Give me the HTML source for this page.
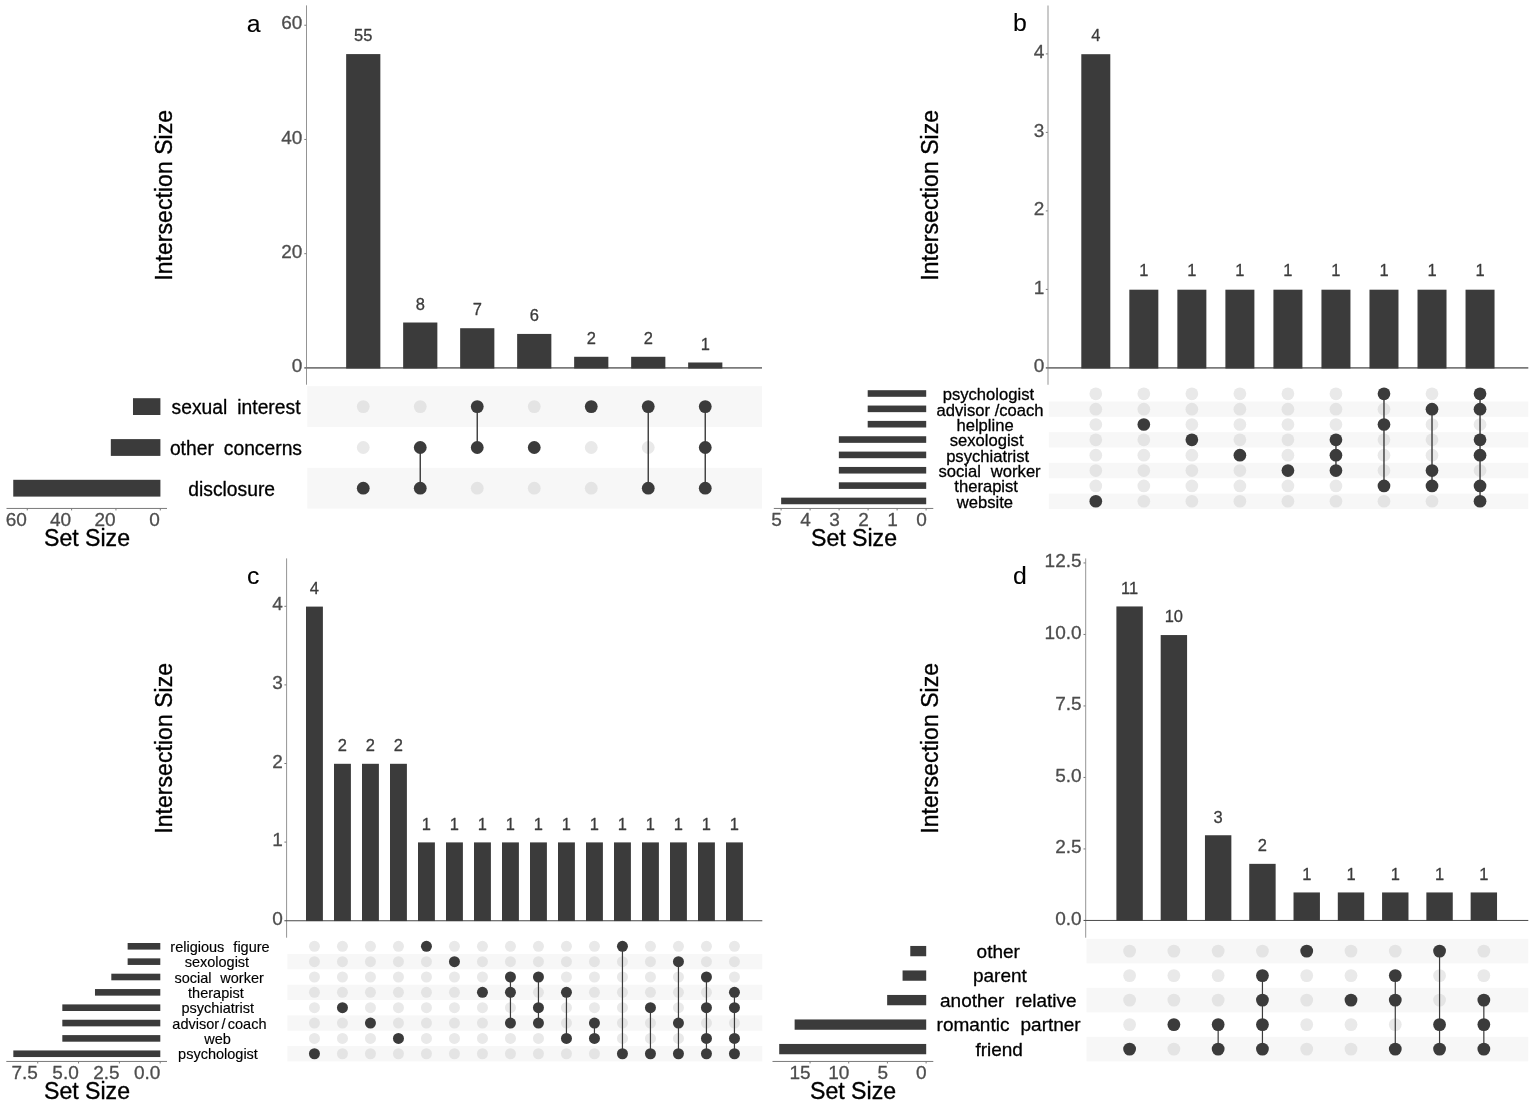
<!DOCTYPE html>
<html lang="en">
<head>
<meta charset="utf-8">
<title>UpSet plots</title>
<style>
html,body{margin:0;padding:0;background:#fff;}
body{width:1535px;height:1106px;overflow:hidden;}
svg{display:block;font-family:"Liberation Sans", sans-serif;}
text{stroke-linejoin:round;}
text[fill="#000"]{stroke:#000;stroke-width:0.35px;}
text[fill="#4d4d4d"]{stroke:#4d4d4d;stroke-width:0.3px;}
text[fill="#3b3b3b"]{stroke:#3b3b3b;stroke-width:0.3px;}
</style>
</head>
<body>
<svg width="1535" height="1106" viewBox="0 0 1535 1106">
<rect width="1535" height="1106" fill="#fff"/>
<g transform="translate(0,0)">
<rect x="307.3" y="386.2" width="454.7" height="40.8" fill="#f7f7f7"/>
<rect x="307.3" y="467.8" width="454.7" height="40.8" fill="#f7f7f7"/>
<circle cx="363.25" cy="406.6" r="6.4" fill="#e4e4e4"/>
<circle cx="363.25" cy="447.5" r="6.4" fill="#e9e9e9"/>
<circle cx="420.25" cy="406.6" r="6.4" fill="#e4e4e4"/>
<circle cx="477.25" cy="488.2" r="6.4" fill="#e4e4e4"/>
<circle cx="534.25" cy="406.6" r="6.4" fill="#e4e4e4"/>
<circle cx="534.25" cy="488.2" r="6.4" fill="#e4e4e4"/>
<circle cx="591.25" cy="447.5" r="6.4" fill="#e9e9e9"/>
<circle cx="591.25" cy="488.2" r="6.4" fill="#e4e4e4"/>
<circle cx="648.25" cy="447.5" r="6.4" fill="#e9e9e9"/>
<circle cx="363.25" cy="488.2" r="6.4" fill="#3b3b3b"/>
<line x1="420.25" y1="447.5" x2="420.25" y2="488.2" stroke="#3b3b3b" stroke-width="1.4"/>
<circle cx="420.25" cy="447.5" r="6.4" fill="#3b3b3b"/>
<circle cx="420.25" cy="488.2" r="6.4" fill="#3b3b3b"/>
<line x1="477.25" y1="406.6" x2="477.25" y2="447.5" stroke="#3b3b3b" stroke-width="1.4"/>
<circle cx="477.25" cy="406.6" r="6.4" fill="#3b3b3b"/>
<circle cx="477.25" cy="447.5" r="6.4" fill="#3b3b3b"/>
<circle cx="534.25" cy="447.5" r="6.4" fill="#3b3b3b"/>
<circle cx="591.25" cy="406.6" r="6.4" fill="#3b3b3b"/>
<line x1="648.25" y1="406.6" x2="648.25" y2="488.2" stroke="#3b3b3b" stroke-width="1.4"/>
<circle cx="648.25" cy="406.6" r="6.4" fill="#3b3b3b"/>
<circle cx="648.25" cy="488.2" r="6.4" fill="#3b3b3b"/>
<line x1="705.25" y1="406.6" x2="705.25" y2="488.2" stroke="#3b3b3b" stroke-width="1.4"/>
<circle cx="705.25" cy="406.6" r="6.4" fill="#3b3b3b"/>
<circle cx="705.25" cy="447.5" r="6.4" fill="#3b3b3b"/>
<circle cx="705.25" cy="488.2" r="6.4" fill="#3b3b3b"/>
<line x1="306.5" y1="5.4" x2="306.5" y2="384.7" stroke="#949494" stroke-width="1"/>
<line x1="304.3" y1="367.9" x2="762" y2="367.9" stroke="#7a7a7a" stroke-width="1.6"/>
<text x="302.4" y="372" font-size="19" fill="#4d4d4d" text-anchor="end">0</text>
<line x1="304.3" y1="253.68" x2="306.3" y2="253.68" stroke="#7a7a7a" stroke-width="1"/>
<text x="302.4" y="257.78" font-size="19" fill="#4d4d4d" text-anchor="end">20</text>
<line x1="304.3" y1="139.46" x2="306.3" y2="139.46" stroke="#7a7a7a" stroke-width="1"/>
<text x="302.4" y="143.56" font-size="19" fill="#4d4d4d" text-anchor="end">40</text>
<line x1="304.3" y1="25.24" x2="306.3" y2="25.24" stroke="#7a7a7a" stroke-width="1"/>
<text x="302.4" y="29.34" font-size="19" fill="#4d4d4d" text-anchor="end">60</text>
<rect x="346.15" y="54.09" width="34.2" height="314.41" fill="#3b3b3b"/>
<text transform="translate(363.25,41.19) scale(0.97,1)" font-size="17" fill="#3b3b3b" text-anchor="middle">55</text>
<rect x="403.15" y="322.51" width="34.2" height="45.99" fill="#3b3b3b"/>
<text transform="translate(420.25,309.61) scale(0.97,1)" font-size="17" fill="#3b3b3b" text-anchor="middle">8</text>
<rect x="460.15" y="328.22" width="34.2" height="40.28" fill="#3b3b3b"/>
<text transform="translate(477.25,315.32) scale(0.97,1)" font-size="17" fill="#3b3b3b" text-anchor="middle">7</text>
<rect x="517.15" y="333.93" width="34.2" height="34.57" fill="#3b3b3b"/>
<text transform="translate(534.25,321.03) scale(0.97,1)" font-size="17" fill="#3b3b3b" text-anchor="middle">6</text>
<rect x="574.15" y="356.78" width="34.2" height="11.72" fill="#3b3b3b"/>
<text transform="translate(591.25,343.88) scale(0.97,1)" font-size="17" fill="#3b3b3b" text-anchor="middle">2</text>
<rect x="631.15" y="356.78" width="34.2" height="11.72" fill="#3b3b3b"/>
<text transform="translate(648.25,343.88) scale(0.97,1)" font-size="17" fill="#3b3b3b" text-anchor="middle">2</text>
<rect x="688.15" y="362.49" width="34.2" height="6.01" fill="#3b3b3b"/>
<text transform="translate(705.25,349.59) scale(0.97,1)" font-size="17" fill="#3b3b3b" text-anchor="middle">1</text>
<text transform="translate(172.3,195.3) rotate(-90)" font-size="23.1" fill="#000" text-anchor="middle">Intersection Size</text>
<text x="246.7" y="31.7" font-size="24.8" fill="#000" style="stroke-width:0.1px">a</text>
<rect x="132.99" y="398.2" width="27.41" height="16.8" fill="#3b3b3b"/>
<text x="236.05" y="414.07" font-size="19.3" fill="#000" text-anchor="middle" style="white-space:pre;stroke-width:0.3px;word-spacing:4.6px">sexual interest</text>
<rect x="110.82" y="439.1" width="49.58" height="16.8" fill="#3b3b3b"/>
<text x="235.95" y="454.97" font-size="19.3" fill="#000" text-anchor="middle" style="white-space:pre;stroke-width:0.3px;word-spacing:4.6px">other concerns</text>
<rect x="13.25" y="479.8" width="147.16" height="16.8" fill="#3b3b3b"/>
<text x="231.65" y="495.67" font-size="19.3" fill="#000" text-anchor="middle" style="white-space:pre;stroke-width:0.3px">disclosure</text>
<line x1="6.5" y1="508.45" x2="167" y2="508.45" stroke="#7a7a7a" stroke-width="1"/>
<line x1="160.3" y1="508.45" x2="160.3" y2="510.45" stroke="#7a7a7a" stroke-width="1"/>
<text x="159.9" y="526.35" font-size="19" fill="#4d4d4d" text-anchor="end">0</text>
<line x1="115.95" y1="508.45" x2="115.95" y2="510.45" stroke="#7a7a7a" stroke-width="1"/>
<text x="115.55" y="526.35" font-size="19" fill="#4d4d4d" text-anchor="end">20</text>
<line x1="71.6" y1="508.45" x2="71.6" y2="510.45" stroke="#7a7a7a" stroke-width="1"/>
<text x="71.2" y="526.35" font-size="19" fill="#4d4d4d" text-anchor="end">40</text>
<line x1="27.25" y1="508.45" x2="27.25" y2="510.45" stroke="#7a7a7a" stroke-width="1"/>
<text x="26.85" y="526.35" font-size="19" fill="#4d4d4d" text-anchor="end">60</text>
<text x="87" y="546.2" font-size="23.1" fill="#000" text-anchor="middle">Set Size</text>
</g>
<g transform="translate(765.8,0)">
<rect x="283" y="401.47" width="479.5" height="15.35" fill="#f7f7f7"/>
<rect x="283" y="432.18" width="479.5" height="15.35" fill="#f7f7f7"/>
<rect x="283" y="462.88" width="479.5" height="15.35" fill="#f7f7f7"/>
<rect x="283" y="493.57" width="479.5" height="15.35" fill="#f7f7f7"/>
<circle cx="330" cy="393.8" r="6.35" fill="#e9e9e9"/>
<circle cx="330" cy="409.15" r="6.35" fill="#e4e4e4"/>
<circle cx="330" cy="424.5" r="6.35" fill="#e9e9e9"/>
<circle cx="330" cy="439.85" r="6.35" fill="#e4e4e4"/>
<circle cx="330" cy="455.2" r="6.35" fill="#e9e9e9"/>
<circle cx="330" cy="470.55" r="6.35" fill="#e4e4e4"/>
<circle cx="330" cy="485.9" r="6.35" fill="#e9e9e9"/>
<circle cx="378.03" cy="393.8" r="6.35" fill="#e9e9e9"/>
<circle cx="378.03" cy="409.15" r="6.35" fill="#e4e4e4"/>
<circle cx="378.03" cy="439.85" r="6.35" fill="#e4e4e4"/>
<circle cx="378.03" cy="455.2" r="6.35" fill="#e9e9e9"/>
<circle cx="378.03" cy="470.55" r="6.35" fill="#e4e4e4"/>
<circle cx="378.03" cy="485.9" r="6.35" fill="#e9e9e9"/>
<circle cx="378.03" cy="501.25" r="6.35" fill="#e4e4e4"/>
<circle cx="426.06" cy="393.8" r="6.35" fill="#e9e9e9"/>
<circle cx="426.06" cy="409.15" r="6.35" fill="#e4e4e4"/>
<circle cx="426.06" cy="424.5" r="6.35" fill="#e9e9e9"/>
<circle cx="426.06" cy="455.2" r="6.35" fill="#e9e9e9"/>
<circle cx="426.06" cy="470.55" r="6.35" fill="#e4e4e4"/>
<circle cx="426.06" cy="485.9" r="6.35" fill="#e9e9e9"/>
<circle cx="426.06" cy="501.25" r="6.35" fill="#e4e4e4"/>
<circle cx="474.09" cy="393.8" r="6.35" fill="#e9e9e9"/>
<circle cx="474.09" cy="409.15" r="6.35" fill="#e4e4e4"/>
<circle cx="474.09" cy="424.5" r="6.35" fill="#e9e9e9"/>
<circle cx="474.09" cy="439.85" r="6.35" fill="#e4e4e4"/>
<circle cx="474.09" cy="470.55" r="6.35" fill="#e4e4e4"/>
<circle cx="474.09" cy="485.9" r="6.35" fill="#e9e9e9"/>
<circle cx="474.09" cy="501.25" r="6.35" fill="#e4e4e4"/>
<circle cx="522.12" cy="393.8" r="6.35" fill="#e9e9e9"/>
<circle cx="522.12" cy="409.15" r="6.35" fill="#e4e4e4"/>
<circle cx="522.12" cy="424.5" r="6.35" fill="#e9e9e9"/>
<circle cx="522.12" cy="439.85" r="6.35" fill="#e4e4e4"/>
<circle cx="522.12" cy="455.2" r="6.35" fill="#e9e9e9"/>
<circle cx="522.12" cy="485.9" r="6.35" fill="#e9e9e9"/>
<circle cx="522.12" cy="501.25" r="6.35" fill="#e4e4e4"/>
<circle cx="570.15" cy="393.8" r="6.35" fill="#e9e9e9"/>
<circle cx="570.15" cy="409.15" r="6.35" fill="#e4e4e4"/>
<circle cx="570.15" cy="424.5" r="6.35" fill="#e9e9e9"/>
<circle cx="570.15" cy="485.9" r="6.35" fill="#e9e9e9"/>
<circle cx="570.15" cy="501.25" r="6.35" fill="#e4e4e4"/>
<circle cx="618.18" cy="409.15" r="6.35" fill="#e4e4e4"/>
<circle cx="618.18" cy="439.85" r="6.35" fill="#e4e4e4"/>
<circle cx="618.18" cy="455.2" r="6.35" fill="#e9e9e9"/>
<circle cx="618.18" cy="470.55" r="6.35" fill="#e4e4e4"/>
<circle cx="618.18" cy="501.25" r="6.35" fill="#e4e4e4"/>
<circle cx="666.21" cy="393.8" r="6.35" fill="#e9e9e9"/>
<circle cx="666.21" cy="424.5" r="6.35" fill="#e9e9e9"/>
<circle cx="666.21" cy="439.85" r="6.35" fill="#e4e4e4"/>
<circle cx="666.21" cy="455.2" r="6.35" fill="#e9e9e9"/>
<circle cx="666.21" cy="501.25" r="6.35" fill="#e4e4e4"/>
<circle cx="714.24" cy="424.5" r="6.35" fill="#e9e9e9"/>
<circle cx="714.24" cy="470.55" r="6.35" fill="#e4e4e4"/>
<circle cx="330" cy="501.25" r="6.35" fill="#3b3b3b"/>
<circle cx="378.03" cy="424.5" r="6.35" fill="#3b3b3b"/>
<circle cx="426.06" cy="439.85" r="6.35" fill="#3b3b3b"/>
<circle cx="474.09" cy="455.2" r="6.35" fill="#3b3b3b"/>
<circle cx="522.12" cy="470.55" r="6.35" fill="#3b3b3b"/>
<line x1="570.15" y1="439.85" x2="570.15" y2="470.55" stroke="#3b3b3b" stroke-width="1.4"/>
<circle cx="570.15" cy="439.85" r="6.35" fill="#3b3b3b"/>
<circle cx="570.15" cy="455.2" r="6.35" fill="#3b3b3b"/>
<circle cx="570.15" cy="470.55" r="6.35" fill="#3b3b3b"/>
<line x1="618.18" y1="393.8" x2="618.18" y2="485.9" stroke="#3b3b3b" stroke-width="1.4"/>
<circle cx="618.18" cy="393.8" r="6.35" fill="#3b3b3b"/>
<circle cx="618.18" cy="424.5" r="6.35" fill="#3b3b3b"/>
<circle cx="618.18" cy="485.9" r="6.35" fill="#3b3b3b"/>
<line x1="666.21" y1="409.15" x2="666.21" y2="485.9" stroke="#3b3b3b" stroke-width="1.4"/>
<circle cx="666.21" cy="409.15" r="6.35" fill="#3b3b3b"/>
<circle cx="666.21" cy="470.55" r="6.35" fill="#3b3b3b"/>
<circle cx="666.21" cy="485.9" r="6.35" fill="#3b3b3b"/>
<line x1="714.24" y1="393.8" x2="714.24" y2="501.25" stroke="#3b3b3b" stroke-width="1.4"/>
<circle cx="714.24" cy="393.8" r="6.35" fill="#3b3b3b"/>
<circle cx="714.24" cy="409.15" r="6.35" fill="#3b3b3b"/>
<circle cx="714.24" cy="439.85" r="6.35" fill="#3b3b3b"/>
<circle cx="714.24" cy="455.2" r="6.35" fill="#3b3b3b"/>
<circle cx="714.24" cy="485.9" r="6.35" fill="#3b3b3b"/>
<circle cx="714.24" cy="501.25" r="6.35" fill="#3b3b3b"/>
<line x1="282.2" y1="5.4" x2="282.2" y2="384.7" stroke="#b4b4b4" stroke-width="1.4"/>
<line x1="280" y1="367.9" x2="762.5" y2="367.9" stroke="#7a7a7a" stroke-width="1.6"/>
<text x="278.5" y="372" font-size="19" fill="#4d4d4d" text-anchor="end">0</text>
<line x1="280" y1="289.4" x2="282" y2="289.4" stroke="#7a7a7a" stroke-width="1"/>
<text x="278.5" y="293.5" font-size="19" fill="#4d4d4d" text-anchor="end">1</text>
<line x1="280" y1="210.9" x2="282" y2="210.9" stroke="#7a7a7a" stroke-width="1"/>
<text x="278.5" y="215" font-size="19" fill="#4d4d4d" text-anchor="end">2</text>
<line x1="280" y1="132.4" x2="282" y2="132.4" stroke="#7a7a7a" stroke-width="1"/>
<text x="278.5" y="136.5" font-size="19" fill="#4d4d4d" text-anchor="end">3</text>
<line x1="280" y1="53.9" x2="282" y2="53.9" stroke="#7a7a7a" stroke-width="1"/>
<text x="278.5" y="58" font-size="19" fill="#4d4d4d" text-anchor="end">4</text>
<rect x="315.5" y="54.2" width="29" height="314.3" fill="#3b3b3b"/>
<text transform="translate(330,40.7) scale(0.97,1)" font-size="17" fill="#3b3b3b" text-anchor="middle">4</text>
<rect x="363.53" y="289.7" width="29" height="78.8" fill="#3b3b3b"/>
<text transform="translate(378.03,276.2) scale(0.97,1)" font-size="17" fill="#3b3b3b" text-anchor="middle">1</text>
<rect x="411.56" y="289.7" width="29" height="78.8" fill="#3b3b3b"/>
<text transform="translate(426.06,276.2) scale(0.97,1)" font-size="17" fill="#3b3b3b" text-anchor="middle">1</text>
<rect x="459.59" y="289.7" width="29" height="78.8" fill="#3b3b3b"/>
<text transform="translate(474.09,276.2) scale(0.97,1)" font-size="17" fill="#3b3b3b" text-anchor="middle">1</text>
<rect x="507.62" y="289.7" width="29" height="78.8" fill="#3b3b3b"/>
<text transform="translate(522.12,276.2) scale(0.97,1)" font-size="17" fill="#3b3b3b" text-anchor="middle">1</text>
<rect x="555.65" y="289.7" width="29" height="78.8" fill="#3b3b3b"/>
<text transform="translate(570.15,276.2) scale(0.97,1)" font-size="17" fill="#3b3b3b" text-anchor="middle">1</text>
<rect x="603.68" y="289.7" width="29" height="78.8" fill="#3b3b3b"/>
<text transform="translate(618.18,276.2) scale(0.97,1)" font-size="17" fill="#3b3b3b" text-anchor="middle">1</text>
<rect x="651.71" y="289.7" width="29" height="78.8" fill="#3b3b3b"/>
<text transform="translate(666.21,276.2) scale(0.97,1)" font-size="17" fill="#3b3b3b" text-anchor="middle">1</text>
<rect x="699.74" y="289.7" width="29" height="78.8" fill="#3b3b3b"/>
<text transform="translate(714.24,276.2) scale(0.97,1)" font-size="17" fill="#3b3b3b" text-anchor="middle">1</text>
<text transform="translate(172.3,195.3) rotate(-90)" font-size="23.1" fill="#000" text-anchor="middle">Intersection Size</text>
<text x="247.2" y="31.2" font-size="24.8" fill="#000" style="stroke-width:0.1px">b</text>
<rect x="101.9" y="390.2" width="58.5" height="6.6" fill="#3b3b3b"/>
<text x="222.6" y="400.16" font-size="16.6" fill="#000" text-anchor="middle" style="white-space:pre;stroke-width:0.3px">psychologist</text>
<rect x="101.9" y="405.55" width="58.5" height="6.6" fill="#3b3b3b"/>
<text x="224.25" y="415.51" font-size="16.6" fill="#000" text-anchor="middle" style="white-space:pre;stroke-width:0.3px;word-spacing:0px">advisor /coach</text>
<rect x="101.9" y="420.9" width="58.5" height="6.6" fill="#3b3b3b"/>
<text x="219.25" y="430.86" font-size="16.6" fill="#000" text-anchor="middle" style="white-space:pre;stroke-width:0.3px">helpline</text>
<rect x="73.05" y="436.25" width="87.35" height="6.6" fill="#3b3b3b"/>
<text x="220.85" y="446.21" font-size="16.6" fill="#000" text-anchor="middle" style="white-space:pre;stroke-width:0.3px">sexologist</text>
<rect x="73.05" y="451.6" width="87.35" height="6.6" fill="#3b3b3b"/>
<text x="221.85" y="461.56" font-size="16.6" fill="#000" text-anchor="middle" style="white-space:pre;stroke-width:0.3px">psychiatrist</text>
<rect x="73.05" y="466.95" width="87.35" height="6.6" fill="#3b3b3b"/>
<text x="223.75" y="476.91" font-size="16.6" fill="#000" text-anchor="middle" style="white-space:pre;stroke-width:0.3px;word-spacing:5.4px">social worker</text>
<rect x="73.05" y="482.3" width="87.35" height="6.6" fill="#3b3b3b"/>
<text x="220.35" y="492.26" font-size="16.6" fill="#000" text-anchor="middle" style="white-space:pre;stroke-width:0.3px">therapist</text>
<rect x="15.35" y="497.65" width="145.05" height="6.6" fill="#3b3b3b"/>
<text x="219.1" y="507.61" font-size="16.6" fill="#000" text-anchor="middle" style="white-space:pre;stroke-width:0.3px">website</text>
<line x1="8" y1="508.45" x2="167.5" y2="508.45" stroke="#7a7a7a" stroke-width="1"/>
<line x1="160.3" y1="508.45" x2="160.3" y2="510.45" stroke="#7a7a7a" stroke-width="1"/>
<text x="161" y="526.35" font-size="19" fill="#4d4d4d" text-anchor="end">0</text>
<line x1="131.3" y1="508.45" x2="131.3" y2="510.45" stroke="#7a7a7a" stroke-width="1"/>
<text x="132" y="526.35" font-size="19" fill="#4d4d4d" text-anchor="end">1</text>
<line x1="102.3" y1="508.45" x2="102.3" y2="510.45" stroke="#7a7a7a" stroke-width="1"/>
<text x="103" y="526.35" font-size="19" fill="#4d4d4d" text-anchor="end">2</text>
<line x1="73.3" y1="508.45" x2="73.3" y2="510.45" stroke="#7a7a7a" stroke-width="1"/>
<text x="74" y="526.35" font-size="19" fill="#4d4d4d" text-anchor="end">3</text>
<line x1="44.3" y1="508.45" x2="44.3" y2="510.45" stroke="#7a7a7a" stroke-width="1"/>
<text x="45" y="526.35" font-size="19" fill="#4d4d4d" text-anchor="end">4</text>
<line x1="15.3" y1="508.45" x2="15.3" y2="510.45" stroke="#7a7a7a" stroke-width="1"/>
<text x="16" y="526.35" font-size="19" fill="#4d4d4d" text-anchor="end">5</text>
<text x="88.2" y="546.2" font-size="23.1" fill="#000" text-anchor="middle">Set Size</text>
</g>
<g transform="translate(0,553)">
<rect x="287.4" y="400.97" width="474.9" height="15.35" fill="#f7f7f7"/>
<rect x="287.4" y="431.68" width="474.9" height="15.35" fill="#f7f7f7"/>
<rect x="287.4" y="462.38" width="474.9" height="15.35" fill="#f7f7f7"/>
<rect x="287.4" y="493.07" width="474.9" height="15.35" fill="#f7f7f7"/>
<circle cx="314.45" cy="393.3" r="5.5" fill="#e9e9e9"/>
<circle cx="314.45" cy="408.65" r="5.5" fill="#e4e4e4"/>
<circle cx="314.45" cy="424" r="5.5" fill="#e9e9e9"/>
<circle cx="314.45" cy="439.35" r="5.5" fill="#e4e4e4"/>
<circle cx="314.45" cy="454.7" r="5.5" fill="#e9e9e9"/>
<circle cx="314.45" cy="470.05" r="5.5" fill="#e4e4e4"/>
<circle cx="314.45" cy="485.4" r="5.5" fill="#e9e9e9"/>
<circle cx="342.45" cy="393.3" r="5.5" fill="#e9e9e9"/>
<circle cx="342.45" cy="408.65" r="5.5" fill="#e4e4e4"/>
<circle cx="342.45" cy="424" r="5.5" fill="#e9e9e9"/>
<circle cx="342.45" cy="439.35" r="5.5" fill="#e4e4e4"/>
<circle cx="342.45" cy="470.05" r="5.5" fill="#e4e4e4"/>
<circle cx="342.45" cy="485.4" r="5.5" fill="#e9e9e9"/>
<circle cx="342.45" cy="500.75" r="5.5" fill="#e4e4e4"/>
<circle cx="370.45" cy="393.3" r="5.5" fill="#e9e9e9"/>
<circle cx="370.45" cy="408.65" r="5.5" fill="#e4e4e4"/>
<circle cx="370.45" cy="424" r="5.5" fill="#e9e9e9"/>
<circle cx="370.45" cy="439.35" r="5.5" fill="#e4e4e4"/>
<circle cx="370.45" cy="454.7" r="5.5" fill="#e9e9e9"/>
<circle cx="370.45" cy="485.4" r="5.5" fill="#e9e9e9"/>
<circle cx="370.45" cy="500.75" r="5.5" fill="#e4e4e4"/>
<circle cx="398.45" cy="393.3" r="5.5" fill="#e9e9e9"/>
<circle cx="398.45" cy="408.65" r="5.5" fill="#e4e4e4"/>
<circle cx="398.45" cy="424" r="5.5" fill="#e9e9e9"/>
<circle cx="398.45" cy="439.35" r="5.5" fill="#e4e4e4"/>
<circle cx="398.45" cy="454.7" r="5.5" fill="#e9e9e9"/>
<circle cx="398.45" cy="470.05" r="5.5" fill="#e4e4e4"/>
<circle cx="398.45" cy="500.75" r="5.5" fill="#e4e4e4"/>
<circle cx="426.45" cy="408.65" r="5.5" fill="#e4e4e4"/>
<circle cx="426.45" cy="424" r="5.5" fill="#e9e9e9"/>
<circle cx="426.45" cy="439.35" r="5.5" fill="#e4e4e4"/>
<circle cx="426.45" cy="454.7" r="5.5" fill="#e9e9e9"/>
<circle cx="426.45" cy="470.05" r="5.5" fill="#e4e4e4"/>
<circle cx="426.45" cy="485.4" r="5.5" fill="#e9e9e9"/>
<circle cx="426.45" cy="500.75" r="5.5" fill="#e4e4e4"/>
<circle cx="454.45" cy="393.3" r="5.5" fill="#e9e9e9"/>
<circle cx="454.45" cy="424" r="5.5" fill="#e9e9e9"/>
<circle cx="454.45" cy="439.35" r="5.5" fill="#e4e4e4"/>
<circle cx="454.45" cy="454.7" r="5.5" fill="#e9e9e9"/>
<circle cx="454.45" cy="470.05" r="5.5" fill="#e4e4e4"/>
<circle cx="454.45" cy="485.4" r="5.5" fill="#e9e9e9"/>
<circle cx="454.45" cy="500.75" r="5.5" fill="#e4e4e4"/>
<circle cx="482.45" cy="393.3" r="5.5" fill="#e9e9e9"/>
<circle cx="482.45" cy="408.65" r="5.5" fill="#e4e4e4"/>
<circle cx="482.45" cy="424" r="5.5" fill="#e9e9e9"/>
<circle cx="482.45" cy="454.7" r="5.5" fill="#e9e9e9"/>
<circle cx="482.45" cy="470.05" r="5.5" fill="#e4e4e4"/>
<circle cx="482.45" cy="485.4" r="5.5" fill="#e9e9e9"/>
<circle cx="482.45" cy="500.75" r="5.5" fill="#e4e4e4"/>
<circle cx="510.45" cy="393.3" r="5.5" fill="#e9e9e9"/>
<circle cx="510.45" cy="408.65" r="5.5" fill="#e4e4e4"/>
<circle cx="510.45" cy="454.7" r="5.5" fill="#e9e9e9"/>
<circle cx="510.45" cy="485.4" r="5.5" fill="#e9e9e9"/>
<circle cx="510.45" cy="500.75" r="5.5" fill="#e4e4e4"/>
<circle cx="538.45" cy="393.3" r="5.5" fill="#e9e9e9"/>
<circle cx="538.45" cy="408.65" r="5.5" fill="#e4e4e4"/>
<circle cx="538.45" cy="439.35" r="5.5" fill="#e4e4e4"/>
<circle cx="538.45" cy="485.4" r="5.5" fill="#e9e9e9"/>
<circle cx="538.45" cy="500.75" r="5.5" fill="#e4e4e4"/>
<circle cx="566.45" cy="393.3" r="5.5" fill="#e9e9e9"/>
<circle cx="566.45" cy="408.65" r="5.5" fill="#e4e4e4"/>
<circle cx="566.45" cy="424" r="5.5" fill="#e9e9e9"/>
<circle cx="566.45" cy="454.7" r="5.5" fill="#e9e9e9"/>
<circle cx="566.45" cy="470.05" r="5.5" fill="#e4e4e4"/>
<circle cx="566.45" cy="500.75" r="5.5" fill="#e4e4e4"/>
<circle cx="594.45" cy="393.3" r="5.5" fill="#e9e9e9"/>
<circle cx="594.45" cy="408.65" r="5.5" fill="#e4e4e4"/>
<circle cx="594.45" cy="424" r="5.5" fill="#e9e9e9"/>
<circle cx="594.45" cy="439.35" r="5.5" fill="#e4e4e4"/>
<circle cx="594.45" cy="454.7" r="5.5" fill="#e9e9e9"/>
<circle cx="594.45" cy="500.75" r="5.5" fill="#e4e4e4"/>
<circle cx="622.45" cy="408.65" r="5.5" fill="#e4e4e4"/>
<circle cx="622.45" cy="424" r="5.5" fill="#e9e9e9"/>
<circle cx="622.45" cy="439.35" r="5.5" fill="#e4e4e4"/>
<circle cx="622.45" cy="454.7" r="5.5" fill="#e9e9e9"/>
<circle cx="622.45" cy="470.05" r="5.5" fill="#e4e4e4"/>
<circle cx="622.45" cy="485.4" r="5.5" fill="#e9e9e9"/>
<circle cx="650.45" cy="393.3" r="5.5" fill="#e9e9e9"/>
<circle cx="650.45" cy="408.65" r="5.5" fill="#e4e4e4"/>
<circle cx="650.45" cy="424" r="5.5" fill="#e9e9e9"/>
<circle cx="650.45" cy="439.35" r="5.5" fill="#e4e4e4"/>
<circle cx="650.45" cy="470.05" r="5.5" fill="#e4e4e4"/>
<circle cx="650.45" cy="485.4" r="5.5" fill="#e9e9e9"/>
<circle cx="678.45" cy="393.3" r="5.5" fill="#e9e9e9"/>
<circle cx="678.45" cy="424" r="5.5" fill="#e9e9e9"/>
<circle cx="678.45" cy="439.35" r="5.5" fill="#e4e4e4"/>
<circle cx="678.45" cy="454.7" r="5.5" fill="#e9e9e9"/>
<circle cx="678.45" cy="485.4" r="5.5" fill="#e9e9e9"/>
<circle cx="706.45" cy="393.3" r="5.5" fill="#e9e9e9"/>
<circle cx="706.45" cy="408.65" r="5.5" fill="#e4e4e4"/>
<circle cx="706.45" cy="439.35" r="5.5" fill="#e4e4e4"/>
<circle cx="706.45" cy="470.05" r="5.5" fill="#e4e4e4"/>
<circle cx="734.45" cy="393.3" r="5.5" fill="#e9e9e9"/>
<circle cx="734.45" cy="408.65" r="5.5" fill="#e4e4e4"/>
<circle cx="734.45" cy="424" r="5.5" fill="#e9e9e9"/>
<circle cx="734.45" cy="470.05" r="5.5" fill="#e4e4e4"/>
<circle cx="314.45" cy="500.75" r="5.5" fill="#3b3b3b"/>
<circle cx="342.45" cy="454.7" r="5.5" fill="#3b3b3b"/>
<circle cx="370.45" cy="470.05" r="5.5" fill="#3b3b3b"/>
<circle cx="398.45" cy="485.4" r="5.5" fill="#3b3b3b"/>
<circle cx="426.45" cy="393.3" r="5.5" fill="#3b3b3b"/>
<circle cx="454.45" cy="408.65" r="5.5" fill="#3b3b3b"/>
<circle cx="482.45" cy="439.35" r="5.5" fill="#3b3b3b"/>
<line x1="510.45" y1="424" x2="510.45" y2="470.05" stroke="#3b3b3b" stroke-width="1.2"/>
<circle cx="510.45" cy="424" r="5.5" fill="#3b3b3b"/>
<circle cx="510.45" cy="439.35" r="5.5" fill="#3b3b3b"/>
<circle cx="510.45" cy="470.05" r="5.5" fill="#3b3b3b"/>
<line x1="538.45" y1="424" x2="538.45" y2="470.05" stroke="#3b3b3b" stroke-width="1.2"/>
<circle cx="538.45" cy="424" r="5.5" fill="#3b3b3b"/>
<circle cx="538.45" cy="454.7" r="5.5" fill="#3b3b3b"/>
<circle cx="538.45" cy="470.05" r="5.5" fill="#3b3b3b"/>
<line x1="566.45" y1="439.35" x2="566.45" y2="485.4" stroke="#3b3b3b" stroke-width="1.2"/>
<circle cx="566.45" cy="439.35" r="5.5" fill="#3b3b3b"/>
<circle cx="566.45" cy="485.4" r="5.5" fill="#3b3b3b"/>
<line x1="594.45" y1="470.05" x2="594.45" y2="485.4" stroke="#3b3b3b" stroke-width="1.2"/>
<circle cx="594.45" cy="470.05" r="5.5" fill="#3b3b3b"/>
<circle cx="594.45" cy="485.4" r="5.5" fill="#3b3b3b"/>
<line x1="622.45" y1="393.3" x2="622.45" y2="500.75" stroke="#3b3b3b" stroke-width="1.2"/>
<circle cx="622.45" cy="393.3" r="5.5" fill="#3b3b3b"/>
<circle cx="622.45" cy="500.75" r="5.5" fill="#3b3b3b"/>
<line x1="650.45" y1="454.7" x2="650.45" y2="500.75" stroke="#3b3b3b" stroke-width="1.2"/>
<circle cx="650.45" cy="454.7" r="5.5" fill="#3b3b3b"/>
<circle cx="650.45" cy="500.75" r="5.5" fill="#3b3b3b"/>
<line x1="678.45" y1="408.65" x2="678.45" y2="500.75" stroke="#3b3b3b" stroke-width="1.2"/>
<circle cx="678.45" cy="408.65" r="5.5" fill="#3b3b3b"/>
<circle cx="678.45" cy="470.05" r="5.5" fill="#3b3b3b"/>
<circle cx="678.45" cy="500.75" r="5.5" fill="#3b3b3b"/>
<line x1="706.45" y1="424" x2="706.45" y2="500.75" stroke="#3b3b3b" stroke-width="1.2"/>
<circle cx="706.45" cy="424" r="5.5" fill="#3b3b3b"/>
<circle cx="706.45" cy="454.7" r="5.5" fill="#3b3b3b"/>
<circle cx="706.45" cy="485.4" r="5.5" fill="#3b3b3b"/>
<circle cx="706.45" cy="500.75" r="5.5" fill="#3b3b3b"/>
<line x1="734.45" y1="439.35" x2="734.45" y2="500.75" stroke="#3b3b3b" stroke-width="1.2"/>
<circle cx="734.45" cy="439.35" r="5.5" fill="#3b3b3b"/>
<circle cx="734.45" cy="454.7" r="5.5" fill="#3b3b3b"/>
<circle cx="734.45" cy="485.4" r="5.5" fill="#3b3b3b"/>
<circle cx="734.45" cy="500.75" r="5.5" fill="#3b3b3b"/>
<line x1="286.6" y1="5.4" x2="286.6" y2="384.7" stroke="#949494" stroke-width="1"/>
<line x1="284.4" y1="367.7" x2="762.3" y2="367.7" stroke="#484848" stroke-width="1.1"/>
<text x="282.8" y="371.8" font-size="19" fill="#4d4d4d" text-anchor="end">0</text>
<line x1="284.4" y1="289.1" x2="286.4" y2="289.1" stroke="#7a7a7a" stroke-width="1"/>
<text x="282.8" y="293.2" font-size="19" fill="#4d4d4d" text-anchor="end">1</text>
<line x1="284.4" y1="210.5" x2="286.4" y2="210.5" stroke="#7a7a7a" stroke-width="1"/>
<text x="282.8" y="214.6" font-size="19" fill="#4d4d4d" text-anchor="end">2</text>
<line x1="284.4" y1="131.9" x2="286.4" y2="131.9" stroke="#7a7a7a" stroke-width="1"/>
<text x="282.8" y="136" font-size="19" fill="#4d4d4d" text-anchor="end">3</text>
<line x1="284.4" y1="53.3" x2="286.4" y2="53.3" stroke="#7a7a7a" stroke-width="1"/>
<text x="282.8" y="57.4" font-size="19" fill="#4d4d4d" text-anchor="end">4</text>
<rect x="306" y="53.6" width="16.9" height="314.45" fill="#3b3b3b"/>
<text transform="translate(314.45,41) scale(0.97,1)" font-size="17" fill="#3b3b3b" text-anchor="middle">4</text>
<rect x="334" y="210.8" width="16.9" height="157.25" fill="#3b3b3b"/>
<text transform="translate(342.45,198.2) scale(0.97,1)" font-size="17" fill="#3b3b3b" text-anchor="middle">2</text>
<rect x="362" y="210.8" width="16.9" height="157.25" fill="#3b3b3b"/>
<text transform="translate(370.45,198.2) scale(0.97,1)" font-size="17" fill="#3b3b3b" text-anchor="middle">2</text>
<rect x="390" y="210.8" width="16.9" height="157.25" fill="#3b3b3b"/>
<text transform="translate(398.45,198.2) scale(0.97,1)" font-size="17" fill="#3b3b3b" text-anchor="middle">2</text>
<rect x="418" y="289.4" width="16.9" height="78.65" fill="#3b3b3b"/>
<text transform="translate(426.45,276.8) scale(0.97,1)" font-size="17" fill="#3b3b3b" text-anchor="middle">1</text>
<rect x="446" y="289.4" width="16.9" height="78.65" fill="#3b3b3b"/>
<text transform="translate(454.45,276.8) scale(0.97,1)" font-size="17" fill="#3b3b3b" text-anchor="middle">1</text>
<rect x="474" y="289.4" width="16.9" height="78.65" fill="#3b3b3b"/>
<text transform="translate(482.45,276.8) scale(0.97,1)" font-size="17" fill="#3b3b3b" text-anchor="middle">1</text>
<rect x="502" y="289.4" width="16.9" height="78.65" fill="#3b3b3b"/>
<text transform="translate(510.45,276.8) scale(0.97,1)" font-size="17" fill="#3b3b3b" text-anchor="middle">1</text>
<rect x="530" y="289.4" width="16.9" height="78.65" fill="#3b3b3b"/>
<text transform="translate(538.45,276.8) scale(0.97,1)" font-size="17" fill="#3b3b3b" text-anchor="middle">1</text>
<rect x="558" y="289.4" width="16.9" height="78.65" fill="#3b3b3b"/>
<text transform="translate(566.45,276.8) scale(0.97,1)" font-size="17" fill="#3b3b3b" text-anchor="middle">1</text>
<rect x="586" y="289.4" width="16.9" height="78.65" fill="#3b3b3b"/>
<text transform="translate(594.45,276.8) scale(0.97,1)" font-size="17" fill="#3b3b3b" text-anchor="middle">1</text>
<rect x="614" y="289.4" width="16.9" height="78.65" fill="#3b3b3b"/>
<text transform="translate(622.45,276.8) scale(0.97,1)" font-size="17" fill="#3b3b3b" text-anchor="middle">1</text>
<rect x="642" y="289.4" width="16.9" height="78.65" fill="#3b3b3b"/>
<text transform="translate(650.45,276.8) scale(0.97,1)" font-size="17" fill="#3b3b3b" text-anchor="middle">1</text>
<rect x="670" y="289.4" width="16.9" height="78.65" fill="#3b3b3b"/>
<text transform="translate(678.45,276.8) scale(0.97,1)" font-size="17" fill="#3b3b3b" text-anchor="middle">1</text>
<rect x="698" y="289.4" width="16.9" height="78.65" fill="#3b3b3b"/>
<text transform="translate(706.45,276.8) scale(0.97,1)" font-size="17" fill="#3b3b3b" text-anchor="middle">1</text>
<rect x="726" y="289.4" width="16.9" height="78.65" fill="#3b3b3b"/>
<text transform="translate(734.45,276.8) scale(0.97,1)" font-size="17" fill="#3b3b3b" text-anchor="middle">1</text>
<text transform="translate(172.3,195.3) rotate(-90)" font-size="23.1" fill="#000" text-anchor="middle">Intersection Size</text>
<text x="246.9" y="30.5" font-size="24.8" fill="#000" style="stroke-width:0.1px">c</text>
<rect x="127.64" y="390" width="32.66" height="6.6" fill="#3b3b3b"/>
<text x="220" y="398.86" font-size="14.5" fill="#000" text-anchor="middle" style="white-space:pre;stroke-width:0.15px;word-spacing:5px">religious figure</text>
<rect x="127.64" y="405.35" width="32.66" height="6.6" fill="#3b3b3b"/>
<text x="216.9" y="414.21" font-size="14.5" fill="#000" text-anchor="middle" style="white-space:pre;stroke-width:0.15px">sexologist</text>
<rect x="111.31" y="420.7" width="48.99" height="6.6" fill="#3b3b3b"/>
<text x="219.15" y="429.56" font-size="14.5" fill="#000" text-anchor="middle" style="white-space:pre;stroke-width:0.15px;word-spacing:4.8px">social worker</text>
<rect x="94.98" y="436.05" width="65.32" height="6.6" fill="#3b3b3b"/>
<text x="215.9" y="444.91" font-size="14.5" fill="#000" text-anchor="middle" style="white-space:pre;stroke-width:0.15px">therapist</text>
<rect x="62.32" y="451.4" width="97.98" height="6.6" fill="#3b3b3b"/>
<text x="217.8" y="460.26" font-size="14.5" fill="#000" text-anchor="middle" style="white-space:pre;stroke-width:0.15px">psychiatrist</text>
<rect x="62.32" y="466.75" width="97.98" height="6.6" fill="#3b3b3b"/>
<text x="219.4" y="475.61" font-size="14.5" fill="#000" text-anchor="middle" style="white-space:pre;stroke-width:0.15px;word-spacing:-1.7px">advisor / coach</text>
<rect x="62.32" y="482.1" width="97.98" height="6.6" fill="#3b3b3b"/>
<text x="217.5" y="490.96" font-size="14.5" fill="#000" text-anchor="middle" style="white-space:pre;stroke-width:0.15px">web</text>
<rect x="13.33" y="497.45" width="146.97" height="6.6" fill="#3b3b3b"/>
<text x="218" y="506.31" font-size="14.5" fill="#000" text-anchor="middle" style="white-space:pre;stroke-width:0.15px">psychologist</text>
<line x1="6.3" y1="508.45" x2="167" y2="508.45" stroke="#7a7a7a" stroke-width="1"/>
<line x1="160.2" y1="508.45" x2="160.2" y2="510.45" stroke="#7a7a7a" stroke-width="1"/>
<text x="160.4" y="526.35" font-size="19" fill="#4d4d4d" text-anchor="end">0.0</text>
<line x1="119.38" y1="508.45" x2="119.38" y2="510.45" stroke="#7a7a7a" stroke-width="1"/>
<text x="119.58" y="526.35" font-size="19" fill="#4d4d4d" text-anchor="end">2.5</text>
<line x1="78.55" y1="508.45" x2="78.55" y2="510.45" stroke="#7a7a7a" stroke-width="1"/>
<text x="78.75" y="526.35" font-size="19" fill="#4d4d4d" text-anchor="end">5.0</text>
<line x1="37.73" y1="508.45" x2="37.73" y2="510.45" stroke="#7a7a7a" stroke-width="1"/>
<text x="37.93" y="526.35" font-size="19" fill="#4d4d4d" text-anchor="end">7.5</text>
<text x="87" y="546.2" font-size="23.1" fill="#000" text-anchor="middle">Set Size</text>
</g>
<g transform="translate(765.8,553)">
<rect x="320.7" y="385.85" width="441.8" height="24.5" fill="#f7f7f7"/>
<rect x="320.7" y="434.85" width="441.8" height="24.5" fill="#f7f7f7"/>
<rect x="320.7" y="483.85" width="441.8" height="24.5" fill="#f7f7f7"/>
<circle cx="363.8" cy="398.1" r="6.4" fill="#e4e4e4"/>
<circle cx="363.8" cy="422.6" r="6.4" fill="#e9e9e9"/>
<circle cx="363.8" cy="447.1" r="6.4" fill="#e4e4e4"/>
<circle cx="363.8" cy="471.6" r="6.4" fill="#e9e9e9"/>
<circle cx="408.08" cy="398.1" r="6.4" fill="#e4e4e4"/>
<circle cx="408.08" cy="422.6" r="6.4" fill="#e9e9e9"/>
<circle cx="408.08" cy="447.1" r="6.4" fill="#e4e4e4"/>
<circle cx="408.08" cy="496.1" r="6.4" fill="#e4e4e4"/>
<circle cx="452.36" cy="398.1" r="6.4" fill="#e4e4e4"/>
<circle cx="452.36" cy="422.6" r="6.4" fill="#e9e9e9"/>
<circle cx="452.36" cy="447.1" r="6.4" fill="#e4e4e4"/>
<circle cx="496.64" cy="398.1" r="6.4" fill="#e4e4e4"/>
<circle cx="540.92" cy="422.6" r="6.4" fill="#e9e9e9"/>
<circle cx="540.92" cy="447.1" r="6.4" fill="#e4e4e4"/>
<circle cx="540.92" cy="471.6" r="6.4" fill="#e9e9e9"/>
<circle cx="540.92" cy="496.1" r="6.4" fill="#e4e4e4"/>
<circle cx="585.2" cy="398.1" r="6.4" fill="#e4e4e4"/>
<circle cx="585.2" cy="422.6" r="6.4" fill="#e9e9e9"/>
<circle cx="585.2" cy="471.6" r="6.4" fill="#e9e9e9"/>
<circle cx="585.2" cy="496.1" r="6.4" fill="#e4e4e4"/>
<circle cx="629.48" cy="398.1" r="6.4" fill="#e4e4e4"/>
<circle cx="629.48" cy="471.6" r="6.4" fill="#e9e9e9"/>
<circle cx="673.76" cy="422.6" r="6.4" fill="#e9e9e9"/>
<circle cx="673.76" cy="447.1" r="6.4" fill="#e4e4e4"/>
<circle cx="718.04" cy="398.1" r="6.4" fill="#e4e4e4"/>
<circle cx="718.04" cy="422.6" r="6.4" fill="#e9e9e9"/>
<circle cx="363.8" cy="496.1" r="6.4" fill="#3b3b3b"/>
<circle cx="408.08" cy="471.6" r="6.4" fill="#3b3b3b"/>
<line x1="452.36" y1="471.6" x2="452.36" y2="496.1" stroke="#3b3b3b" stroke-width="1.2"/>
<circle cx="452.36" cy="471.6" r="6.4" fill="#3b3b3b"/>
<circle cx="452.36" cy="496.1" r="6.4" fill="#3b3b3b"/>
<line x1="496.64" y1="422.6" x2="496.64" y2="496.1" stroke="#3b3b3b" stroke-width="1.2"/>
<circle cx="496.64" cy="422.6" r="6.4" fill="#3b3b3b"/>
<circle cx="496.64" cy="447.1" r="6.4" fill="#3b3b3b"/>
<circle cx="496.64" cy="471.6" r="6.4" fill="#3b3b3b"/>
<circle cx="496.64" cy="496.1" r="6.4" fill="#3b3b3b"/>
<circle cx="540.92" cy="398.1" r="6.4" fill="#3b3b3b"/>
<circle cx="585.2" cy="447.1" r="6.4" fill="#3b3b3b"/>
<line x1="629.48" y1="422.6" x2="629.48" y2="496.1" stroke="#3b3b3b" stroke-width="1.2"/>
<circle cx="629.48" cy="422.6" r="6.4" fill="#3b3b3b"/>
<circle cx="629.48" cy="447.1" r="6.4" fill="#3b3b3b"/>
<circle cx="629.48" cy="496.1" r="6.4" fill="#3b3b3b"/>
<line x1="673.76" y1="398.1" x2="673.76" y2="496.1" stroke="#3b3b3b" stroke-width="1.2"/>
<circle cx="673.76" cy="398.1" r="6.4" fill="#3b3b3b"/>
<circle cx="673.76" cy="471.6" r="6.4" fill="#3b3b3b"/>
<circle cx="673.76" cy="496.1" r="6.4" fill="#3b3b3b"/>
<line x1="718.04" y1="447.1" x2="718.04" y2="496.1" stroke="#3b3b3b" stroke-width="1.2"/>
<circle cx="718.04" cy="447.1" r="6.4" fill="#3b3b3b"/>
<circle cx="718.04" cy="471.6" r="6.4" fill="#3b3b3b"/>
<circle cx="718.04" cy="496.1" r="6.4" fill="#3b3b3b"/>
<line x1="319.9" y1="5.4" x2="319.9" y2="384.7" stroke="#949494" stroke-width="1"/>
<line x1="317.7" y1="367.45" x2="762.5" y2="367.45" stroke="#4a4a4a" stroke-width="1"/>
<text x="315.8" y="371.55" font-size="19" fill="#4d4d4d" text-anchor="end">0.0</text>
<line x1="317.7" y1="295.95" x2="319.7" y2="295.95" stroke="#7a7a7a" stroke-width="1"/>
<text x="315.8" y="300.05" font-size="19" fill="#4d4d4d" text-anchor="end">2.5</text>
<line x1="317.7" y1="224.45" x2="319.7" y2="224.45" stroke="#7a7a7a" stroke-width="1"/>
<text x="315.8" y="228.55" font-size="19" fill="#4d4d4d" text-anchor="end">5.0</text>
<line x1="317.7" y1="152.95" x2="319.7" y2="152.95" stroke="#7a7a7a" stroke-width="1"/>
<text x="315.8" y="157.05" font-size="19" fill="#4d4d4d" text-anchor="end">7.5</text>
<line x1="317.7" y1="81.45" x2="319.7" y2="81.45" stroke="#7a7a7a" stroke-width="1"/>
<text x="315.8" y="85.55" font-size="19" fill="#4d4d4d" text-anchor="end">10.0</text>
<line x1="317.7" y1="9.95" x2="319.7" y2="9.95" stroke="#7a7a7a" stroke-width="1"/>
<text x="315.8" y="14.05" font-size="19" fill="#4d4d4d" text-anchor="end">12.5</text>
<rect x="350.6" y="53.45" width="26.4" height="314.3" fill="#3b3b3b"/>
<text transform="translate(363.8,40.85) scale(0.97,1)" font-size="17" fill="#3b3b3b" text-anchor="middle">11</text>
<rect x="394.88" y="82.05" width="26.4" height="285.7" fill="#3b3b3b"/>
<text transform="translate(408.08,69.45) scale(0.97,1)" font-size="17" fill="#3b3b3b" text-anchor="middle">10</text>
<rect x="439.16" y="282.25" width="26.4" height="85.5" fill="#3b3b3b"/>
<text transform="translate(452.36,269.65) scale(0.97,1)" font-size="17" fill="#3b3b3b" text-anchor="middle">3</text>
<rect x="483.44" y="310.85" width="26.4" height="56.9" fill="#3b3b3b"/>
<text transform="translate(496.64,298.25) scale(0.97,1)" font-size="17" fill="#3b3b3b" text-anchor="middle">2</text>
<rect x="527.72" y="339.45" width="26.4" height="28.3" fill="#3b3b3b"/>
<text transform="translate(540.92,326.85) scale(0.97,1)" font-size="17" fill="#3b3b3b" text-anchor="middle">1</text>
<rect x="572" y="339.45" width="26.4" height="28.3" fill="#3b3b3b"/>
<text transform="translate(585.2,326.85) scale(0.97,1)" font-size="17" fill="#3b3b3b" text-anchor="middle">1</text>
<rect x="616.28" y="339.45" width="26.4" height="28.3" fill="#3b3b3b"/>
<text transform="translate(629.48,326.85) scale(0.97,1)" font-size="17" fill="#3b3b3b" text-anchor="middle">1</text>
<rect x="660.56" y="339.45" width="26.4" height="28.3" fill="#3b3b3b"/>
<text transform="translate(673.76,326.85) scale(0.97,1)" font-size="17" fill="#3b3b3b" text-anchor="middle">1</text>
<rect x="704.84" y="339.45" width="26.4" height="28.3" fill="#3b3b3b"/>
<text transform="translate(718.04,326.85) scale(0.97,1)" font-size="17" fill="#3b3b3b" text-anchor="middle">1</text>
<text transform="translate(172.3,195.3) rotate(-90)" font-size="23.1" fill="#000" text-anchor="middle">Intersection Size</text>
<text x="247.2" y="31" font-size="24.8" fill="#000" style="stroke-width:0.1px">d</text>
<rect x="144.48" y="392.95" width="15.92" height="10.3" fill="#3b3b3b"/>
<text x="232.45" y="404.87" font-size="19" fill="#000" text-anchor="middle" style="white-space:pre;stroke-width:0.3px">other</text>
<rect x="136.77" y="417.45" width="23.63" height="10.3" fill="#3b3b3b"/>
<text x="234.1" y="429.37" font-size="19" fill="#000" text-anchor="middle" style="white-space:pre;stroke-width:0.3px">parent</text>
<rect x="121.35" y="441.95" width="39.05" height="10.3" fill="#3b3b3b"/>
<text x="242.5" y="453.87" font-size="19" fill="#000" text-anchor="middle" style="white-space:pre;stroke-width:0.3px;word-spacing:5.6px">another relative</text>
<rect x="28.83" y="466.45" width="131.57" height="10.3" fill="#3b3b3b"/>
<text x="242.85" y="478.37" font-size="19" fill="#000" text-anchor="middle" style="white-space:pre;stroke-width:0.3px;word-spacing:5.8px">romantic partner</text>
<rect x="13.41" y="490.95" width="146.99" height="10.3" fill="#3b3b3b"/>
<text x="233.35" y="502.87" font-size="19" fill="#000" text-anchor="middle" style="white-space:pre;stroke-width:0.3px">friend</text>
<line x1="6.7" y1="508.45" x2="167.5" y2="508.45" stroke="#7a7a7a" stroke-width="1"/>
<line x1="160.3" y1="508.45" x2="160.3" y2="510.45" stroke="#7a7a7a" stroke-width="1"/>
<text x="160.9" y="526.35" font-size="19" fill="#4d4d4d" text-anchor="end">0</text>
<line x1="121.62" y1="508.45" x2="121.62" y2="510.45" stroke="#7a7a7a" stroke-width="1"/>
<text x="122.22" y="526.35" font-size="19" fill="#4d4d4d" text-anchor="end">5</text>
<line x1="82.93" y1="508.45" x2="82.93" y2="510.45" stroke="#7a7a7a" stroke-width="1"/>
<text x="83.53" y="526.35" font-size="19" fill="#4d4d4d" text-anchor="end">10</text>
<line x1="44.25" y1="508.45" x2="44.25" y2="510.45" stroke="#7a7a7a" stroke-width="1"/>
<text x="44.85" y="526.35" font-size="19" fill="#4d4d4d" text-anchor="end">15</text>
<text x="87.25" y="546.2" font-size="23.1" fill="#000" text-anchor="middle">Set Size</text>
</g>
</svg>
</body>
</html>
